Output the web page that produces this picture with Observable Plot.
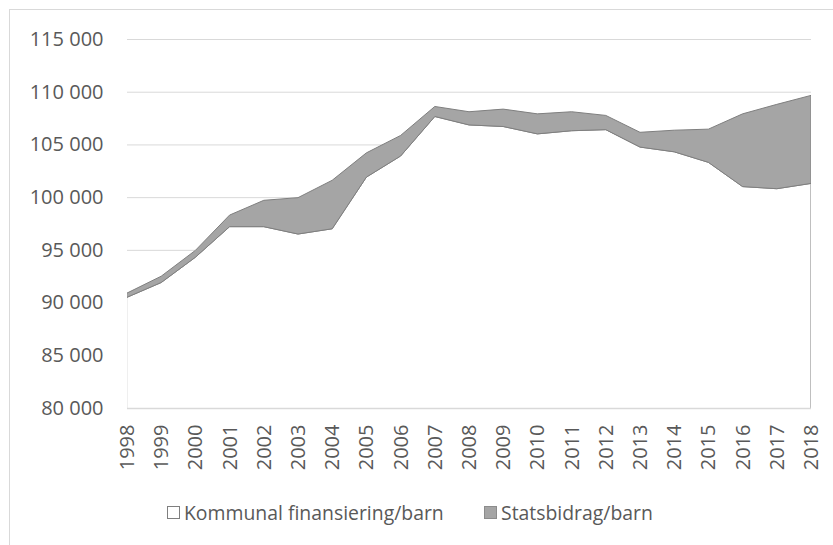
<!DOCTYPE html>
<html>
<head>
<meta charset="utf-8">
<script src="https://cdn.jsdelivr.net/npm/d3@7"></script>
<script src="https://cdn.jsdelivr.net/npm/@observablehq/plot@0.6"></script>
<style>
  html, body { margin: 0; padding: 0; background: #fff; }
  #wrap { position: relative; width: 833px; height: 545px; overflow: hidden; font-family: "Open Sans", sans-serif; }
  #frame { position: absolute; left: 9px; top: 9px; width: 900px; height: 600px; border-left: 1px solid #d9d9d9; border-top: 1px solid #d9d9d9; }
  #chart { position: absolute; left: 0; top: 0; }
  #legend { position: absolute; top: 499px; left: 0; width: 833px; font-size: 19.4px; color: #595959; }
  .item { position: absolute; display: flex; align-items: center; white-space: nowrap; }
  .sw { width: 13px; height: 13px; box-sizing: border-box; margin-right: 4px; }
</style>
</head>
<body>
<div id="wrap">
  <div id="frame"></div>
  <div id="chart"></div>
  <div id="legend">
    <div class="item" style="left:167px"><span class="sw" style="background:#fff;border:1px solid #7f7f7f"></span><span id="l1">Kommunal finansiering/barn</span></div>
    <div class="item" style="left:484px"><span class="sw" style="background:#a5a5a5;border:1px solid #8c8c8c"></span><span>Statsbidrag/barn</span></div>
  </div>
</div>
<script>
const years = [1998, 1999, 2000, 2001, 2002, 2003, 2004, 2005, 2006, 2007, 2008, 2009, 2010, 2011, 2012, 2013, 2014, 2015, 2016, 2017, 2018];
const kommunal = [90500, 91900, 94300, 97200, 97200, 96500, 97000, 101900, 103900, 107650, 106850, 106700, 106000, 106300, 106400, 104750, 104300, 103300, 101000, 100800, 101300];
const statsbidrag = [400, 600, 650, 1100, 2500, 3450, 4600, 2300, 1950, 950, 1250, 1650, 1900, 1800, 1350, 1400, 2050, 3150, 6900, 8000, 8350];
const seriesNames = ["Kommunal finansiering/barn", "Statsbidrag/barn"];
const yTicks = [80000, 85000, 90000, 95000, 100000, 105000, 110000, 115000];

const rows = [];
years.forEach((yr, i) => {
  rows.push({year: yr, series: seriesNames[0], value: kommunal[i]});
  rows.push({year: yr, series: seriesNames[1], value: statsbidrag[i]});
});

const fmt = d => d3.format(",")(d).replace(/,/g, " ");

const chart = Plot.plot({
  width: 833,
  height: 490,
  marginLeft: 127,
  marginRight: 22,
  marginTop: 39,
  marginBottom: 82,
  style: {fontFamily: "Open Sans, sans-serif", fontSize: "20px", color: "#595959", background: "transparent"},
  x: {domain: [1998, 2018], label: null},
  y: {domain: [80000, 115000], label: null},
  color: {domain: seriesNames, range: ["#ffffff", "#a5a5a5"]},
  marks: [
    Plot.gridY(yTicks, {stroke: "#d9d9d9", strokeOpacity: 1, strokeWidth: 1}),
    Plot.areaY(rows, {x: "year", y: "value", fill: "series", z: "series", order: seriesNames, stroke: "#7f7f7f", strokeWidth: 1, clip: true}),
    Plot.ruleY([80000], {stroke: "#d9d9d9", strokeWidth: 1.5}),
    Plot.axisY(yTicks, {tickSize: 0, tickPadding: 24, tickFormat: fmt, fill: "#595959", fontSize: 20}),
    Plot.axisX(years, {tickSize: 0, tickPadding: 16, tickRotate: -90, tickFormat: d => String(d), fill: "#595959", fontSize: 20})
  ]
});
document.getElementById("chart").appendChild(chart);
</script>
</body>
</html>
